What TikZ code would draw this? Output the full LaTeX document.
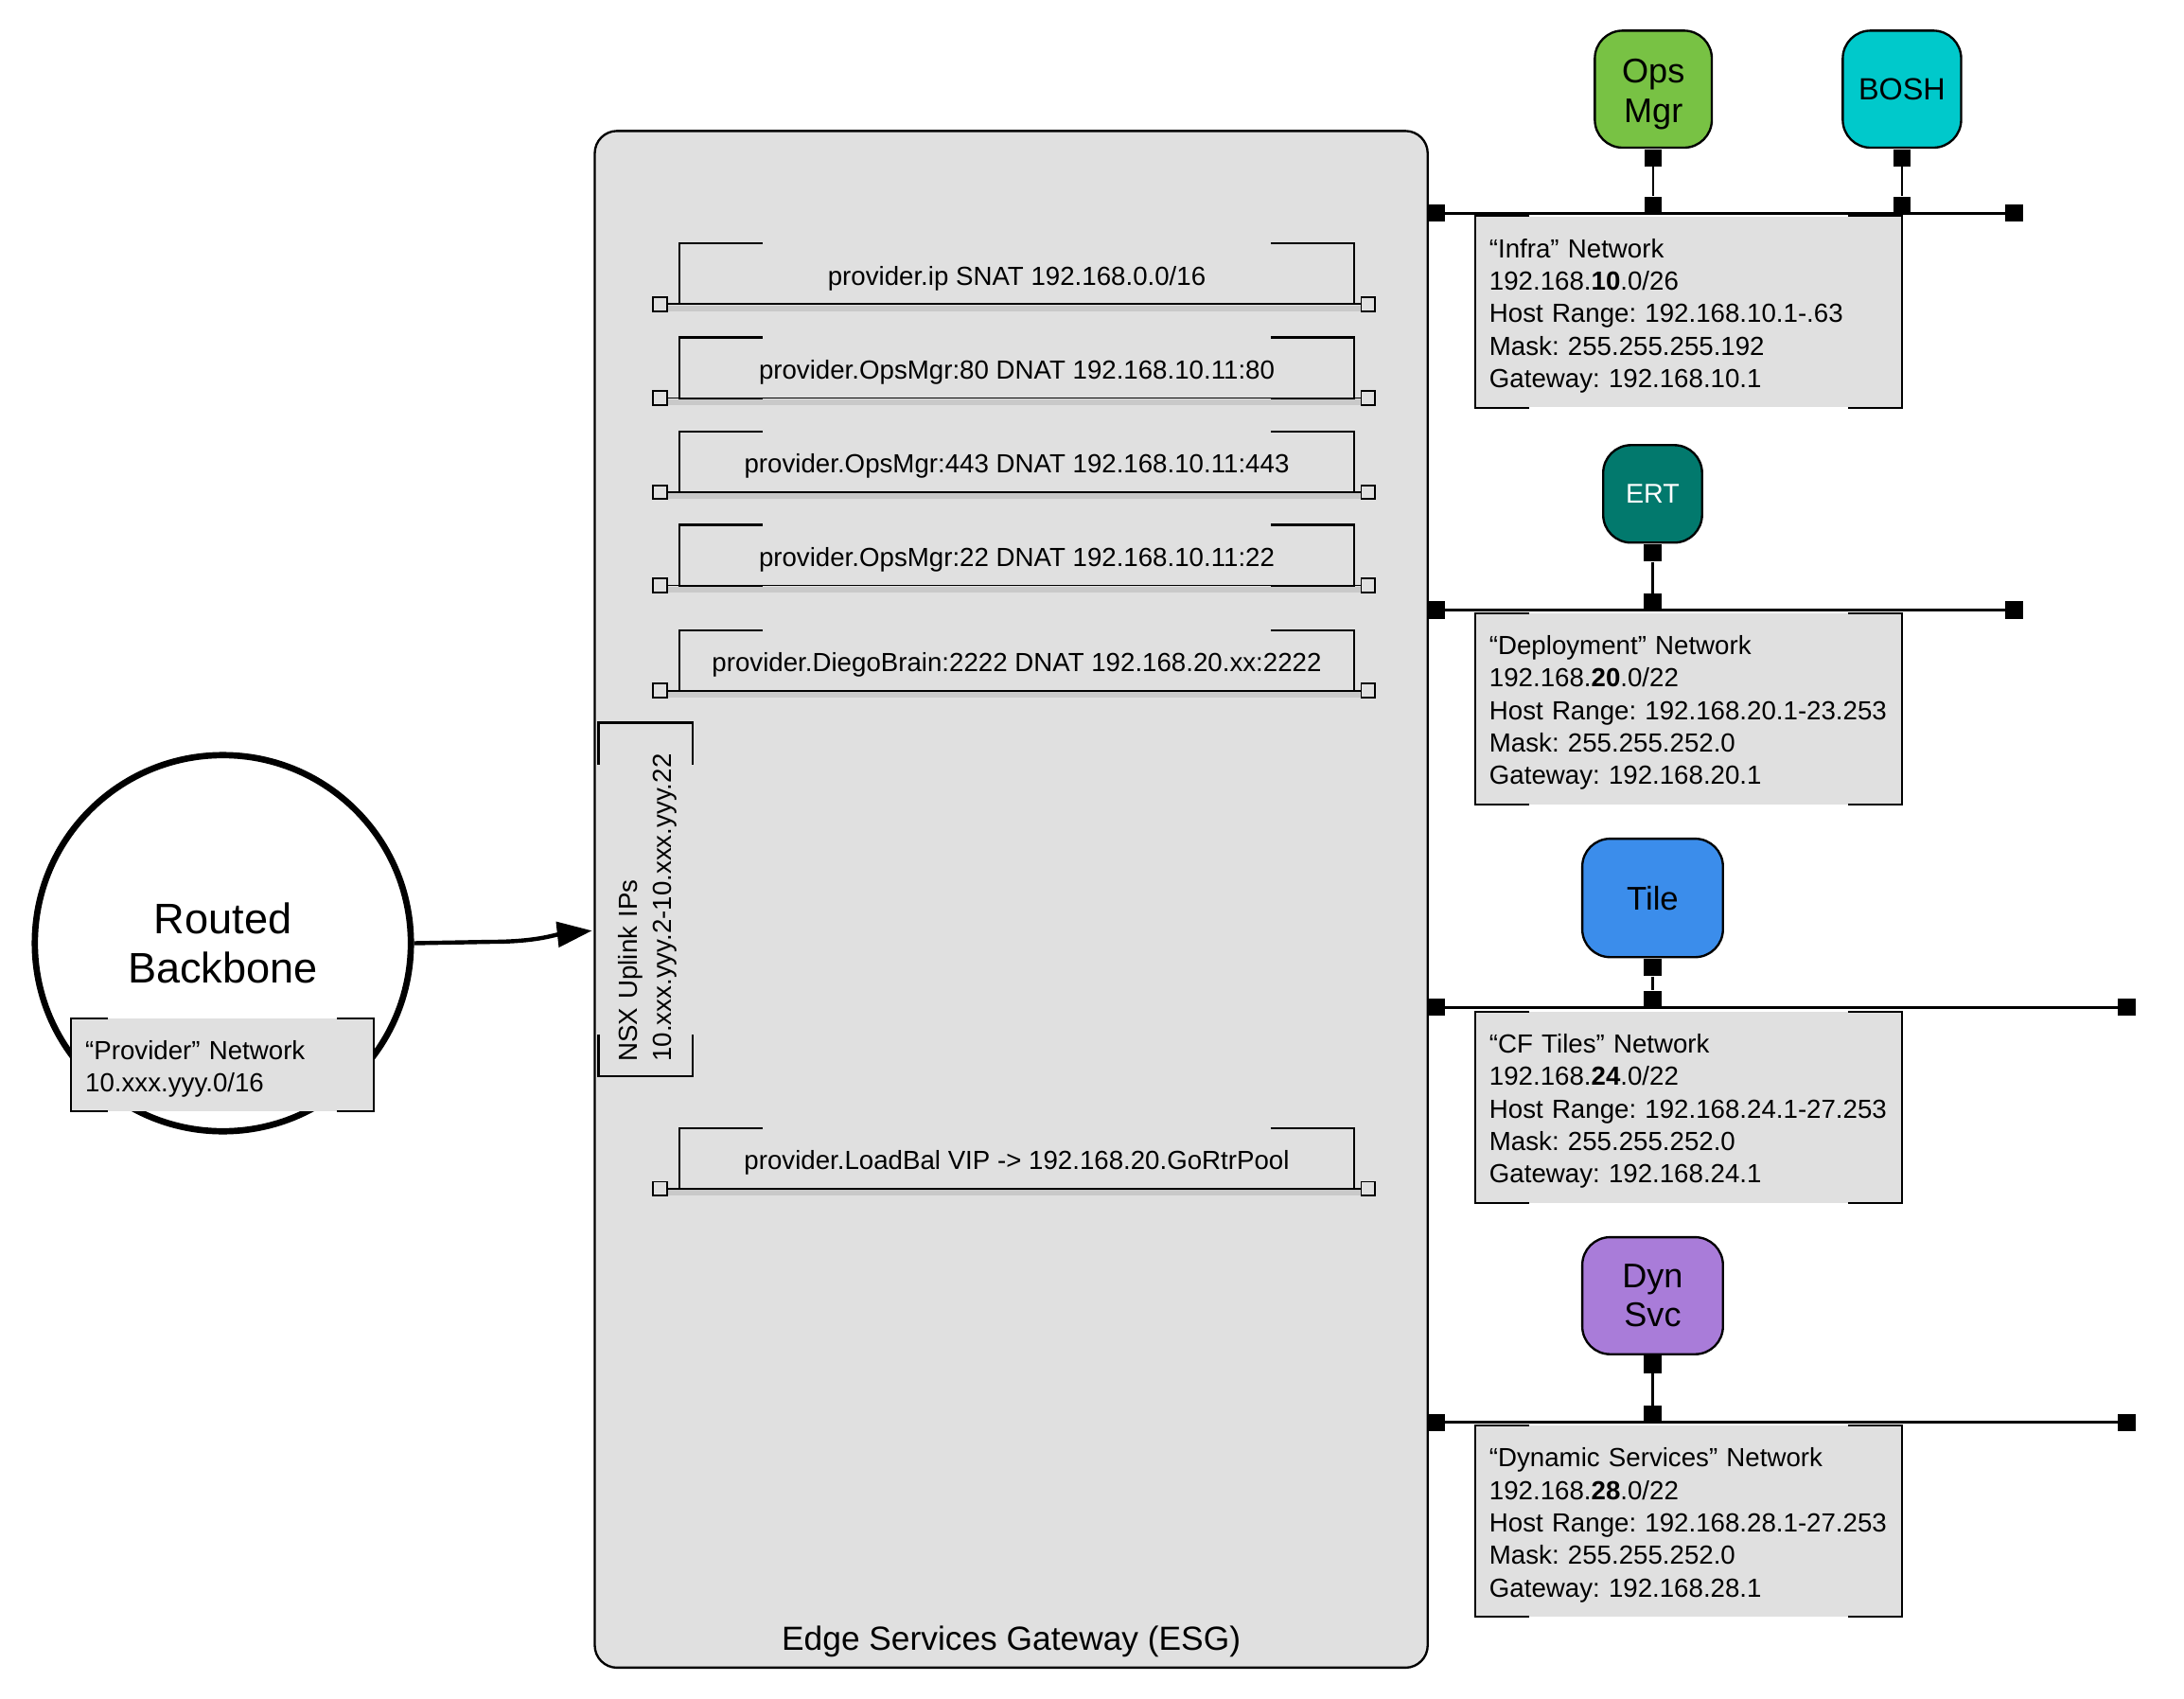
\documentclass[tikz,border=0pt]{standalone}
\usepackage{fontspec}
\setmainfont{Liberation Sans}
\usetikzlibrary{arrows.meta,calc}
\definecolor{esggray}{HTML}{E0E0E0}
\definecolor{opsgreen}{HTML}{78C244}
\definecolor{boshcyan}{HTML}{00C9CB}
\definecolor{ertteal}{HTML}{02796D}
\definecolor{tileblue}{HTML}{3B8DEB}
\definecolor{dynpurple}{HTML}{A97CD9}
\begin{document}
\frenchspacing
\tikzset{every node/.append style={execute at begin node={\exhyphenpenalty=10000\hyphenpenalty=10000}}}
\begin{tikzpicture}[x=0.75pt,y=-0.75pt,
  txt/.style={font=\fontsize{14.1pt}{17.5pt}\selectfont},
  brk/.style={line width=1.1pt},
  busline/.style={line width=1.5pt},
  ruleline/.style={line width=0.8pt},
  shadowline/.style={line width=3pt, draw=black, opacity=0.10},
  bsq/.style={fill=black, inner sep=0pt, minimum size=9.4pt},
  hsq/.style={draw, fill=esggray, line width=0.9pt, inner sep=0pt, minimum size=7.5pt},
  dev/.style={draw, line width=1.2pt, rounded corners=15pt, align=center, inner sep=0pt},
  netbox/.style={txt, fill=esggray, anchor=north west, minimum width=229.5pt, minimum height=102.75pt,
     text width=214.5pt, inner xsep=7.5pt, inner ysep=0pt, align=left},
  rulebox/.style={txt, minimum width=363pt, minimum height=32.25pt, inner sep=0pt,
     text height=12pt, text depth=0pt},
  devlink/.style={line width=1.1pt}
]
\useasboundingbox (0,0) rectangle (1568,1219);

% ---------- Edge Services Gateway ----------
\node[draw, fill=esggray, line width=1.2pt, rounded corners=12pt, minimum width=448.5pt,
      minimum height=827.25pt, inner sep=0pt] (esg) at (726,645.5) {};
\node[font=\fontsize{18pt}{21pt}\selectfont] (esglbl) at (726,1178) {Edge Services Gateway (ESG)};

% ---------- Routed backbone ----------
\node[draw, circle, fill=white, line width=3.4pt, minimum size=202.5pt, inner sep=0pt,
      align=center, font=\fontsize{23pt}{26.25pt}\selectfont] (bb) at (160,677) {Routed\\Backbone};
\node[txt, fill=esggray, anchor=north west, minimum width=162.75pt, minimum height=49.5pt,
      text width=147.75pt, inner xsep=7.5pt, inner ysep=0pt, align=left] (prov) at (51,731)
      {\rule{0pt}{14.5pt}“Provider” Network\\10.xxx.yyy.0/16};

% ---------- Uplink ----------
\node[txt, rotate=90, minimum width=189.75pt, minimum height=50.25pt, text width=174.75pt,
      inner xsep=7.5pt, inner ysep=0pt, align=left, font=\fontsize{14.1pt}{18pt}\selectfont]
      (upl) at (463.5,645.5) {\rule{0pt}{12.5pt}NSX Uplink IPs\\10.xxx.yyy.2-10.xxx.yyy.22};
\draw[brk] ([yshift=-22.5pt]upl.north east) -- (upl.north east) -- (upl.south east) -- ([yshift=-22.5pt]upl.south east);
\draw[brk] ([yshift=22.5pt]upl.north west) -- (upl.north west) -- (upl.south west) -- ([yshift=22.5pt]upl.south west);

\coordinate (uplin) at (425,668);
\draw[line width=2.25pt, -{Triangle[length=18.75pt,width=13.5pt]}]
  (bb.east) -- (352,676) .. controls (385,676) and (398,671) .. (uplin);

% ---------- NAT rules ----------
\node[rulebox] (r1) at (730,196.5) {provider.ip SNAT 192.168.0.0/16};
\node[rulebox] (r2) at (730,264) {provider.OpsMgr:80 DNAT 192.168.10.11:80};
\node[rulebox] (r3) at (730,331.5) {provider.OpsMgr:443 DNAT 192.168.10.11:443};
\node[rulebox] (r4) at (730,398.5) {provider.OpsMgr:22 DNAT 192.168.10.11:22};
\node[rulebox] (r5) at (730,474) {provider.DiegoBrain:2222 DNAT 192.168.20.xx:2222};
\node[rulebox] (r6) at (730,831.5) {provider.LoadBal VIP -> 192.168.20.GoRtrPool};

\foreach \r in {r1,r2,r3,r4,r5,r6}{
  \node[hsq] (\r L) at ($(\r.south west)+(-14,0)$) {};
  \node[hsq] (\r R) at ($(\r.south east)+(10,0)$) {};
  \draw[shadowline] ([yshift=-2.2pt]\r L.center) -- ([yshift=-2.2pt]\r R.center);
  \draw[ruleline] (\r L) -- (\r R);
  \draw[brk] ([xshift=45pt]\r.north west) -- (\r.north west) -- (\r.south west) -- ([xshift=45pt]\r.south west);
  \draw[brk] ([xshift=-45pt]\r.north east) -- (\r.north east) -- (\r.south east) -- ([xshift=-45pt]\r.south east);
  \node[hsq] at (\r L) {};
  \node[hsq] at (\r R) {};
}

% ---------- Networks ----------
\node[netbox] (infra) at (1059,155)
  {\rule{0pt}{14.5pt}“Infra” Network\\192.168.\textbf{10}.0/26\\Host Range: 192.168.10.1-.63\\Mask: 255.255.255.192\\Gateway: 192.168.10.1};
\node[netbox] (deploy) at (1059,440)
  {\rule{0pt}{14.5pt}“Deployment” Network\\192.168.\textbf{20}.0/22\\Host Range: 192.168.20.1-23.253\\Mask: 255.255.252.0\\Gateway: 192.168.20.1};
\node[netbox] (cftiles) at (1059,726)
  {\rule{0pt}{14.5pt}“CF Tiles” Network\\192.168.\textbf{24}.0/22\\Host Range: 192.168.24.1-27.253\\Mask: 255.255.252.0\\Gateway: 192.168.24.1};
\node[netbox] (dynnet) at (1059,1023)
  {\rule{0pt}{14.5pt}“Dynamic Services” Network\\192.168.\textbf{28}.0/22\\Host Range: 192.168.28.1-27.253\\Mask: 255.255.252.0\\Gateway: 192.168.28.1};

\foreach \n in {prov}{
  \draw[brk] ([xshift=20pt]\n.north west) -- (\n.north west) -- (\n.south west) -- ([xshift=20pt]\n.south west);
  \draw[brk] ([xshift=-20pt]\n.north east) -- (\n.north east) -- (\n.south east) -- ([xshift=-20pt]\n.south east);
}
\foreach \n in {infra,deploy,cftiles,dynnet}{
  \draw[brk] ([xshift=29.25pt]\n.north west) -- (\n.north west) -- (\n.south west) -- ([xshift=29.25pt]\n.south west);
  \draw[brk] ([xshift=-29.25pt]\n.north east) -- (\n.north east) -- (\n.south east) -- ([xshift=-29.25pt]\n.south east);
}

% buses
\node[bsq] (b1L) at (1031,153) {};
\node[bsq] (b1R) at (1446,153) {};
\node[bsq] (b2L) at (1031,438) {};
\node[bsq] (b2R) at (1446,438) {};
\node[bsq] (b3L) at (1031,723) {};
\node[bsq] (b3R) at (1527,723) {};
\node[bsq] (b4L) at (1031,1021) {};
\node[bsq] (b4R) at (1527,1021) {};
\draw[busline] (b1L) -- (b1R);
\draw[busline] (b2L) -- (b2R);
\draw[busline] (b3L) -- (b3R);
\draw[busline] (b4L) -- (b4R);

% ---------- Devices ----------
\node[dev, fill=opsgreen, minimum width=63pt, minimum height=63pt,
      font=\fontsize{18.4pt}{21.75pt}\selectfont] (ops) at (1187,64) {\rule{0pt}{18.4pt}Ops\\Mgr};
\node[dev, fill=boshcyan, minimum width=63.75pt, minimum height=63pt,
      font=\fontsize{16.5pt}{20pt}\selectfont] (bosh) at (1365.5,64) {BOSH};
\node[dev, fill=ertteal, text=white, minimum width=53.25pt, minimum height=52.5pt,
      font=\fontsize{14.6pt}{18pt}\selectfont] (ert) at (1186.5,354.5) {ERT};
\node[dev, fill=tileblue, minimum width=75.75pt, minimum height=63.75pt,
      font=\fontsize{17.7pt}{21pt}\selectfont] (tile) at (1186.5,644.5) {Tile};
\node[dev, fill=dynpurple, minimum width=75.75pt, minimum height=63pt,
      font=\fontsize{18.4pt}{21pt}\selectfont] (dyn) at (1186.5,930) {Dyn\\Svc};

\foreach \d/\b in {ops/b1L, bosh/b1L, ert/b2L, tile/b3L, dyn/b4L}{
  \node[bsq, anchor=north] (\d A) at (\d.south) {};
  \node[bsq, anchor=south] (\d B) at ([yshift=-0.75pt]\d.south |- \b.center) {};
  \draw[devlink] (\d A) -- (\d B);
}
\end{tikzpicture}
\end{document}
